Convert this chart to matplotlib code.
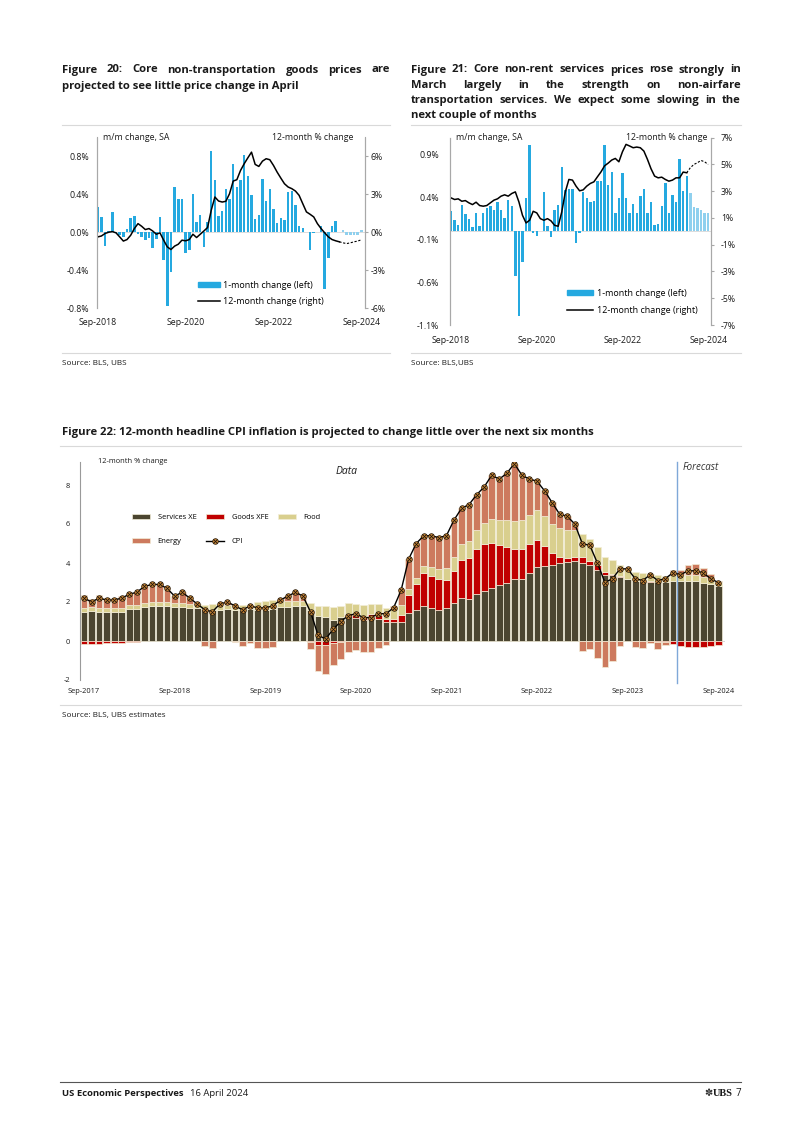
import numpy as np
import matplotlib
matplotlib.use("Agg")
import matplotlib.pyplot as plt
from matplotlib.patches import Patch
from matplotlib.lines import Line2D

plt.rcParams['font.family'] = ['Open Sans', 'DejaVu Sans']
plt.rcParams['axes.unicode_minus'] = False

W, H = 802, 1134

# ---------------- data: Figure 20 (core non-transportation goods) ----------------
f20_ticks = ['Sep-2018', 'Sep-2020', 'Sep-2022', 'Sep-2024']
f20_mm = [0.27, 0.16, -0.15, 0.01, 0.21, -0.01, -0.03, -0.05, 0.03, 0.15,
          0.17, -0.02, -0.05, -0.08, -0.06, -0.17, -0.07, 0.16, -0.29, -0.78,
          -0.42, 0.48, 0.35, 0.35, -0.22, -0.19, 0.40, 0.11, 0.18, -0.16,
          0.11, 0.86, 0.55, 0.17, 0.22, 0.46, 0.35, 0.72, 0.48, 0.55,
          0.81, 0.59, 0.39, 0.14, 0.18, 0.56, 0.33, 0.46, 0.24, 0.10,
          0.15, 0.13, 0.42, 0.43, 0.29, 0.07, 0.04, 0.00, -0.19, -0.01,
          0.00, 0.07, -0.60, -0.27, 0.07, 0.12, 0.00]
f20_mm_fc = [0.02, -0.03, -0.03, -0.03, -0.03, 0.02]
f20_yy = [-0.37, -0.30, -0.10, 0.00, 0.05, -0.05, -0.37, -0.70, -0.58, -0.24,
          0.29, 0.68, 0.47, 0.21, 0.29, 0.10, -0.16, -0.05, -0.63, -1.16,
          -1.37, -1.10, -0.95, -0.63, -0.68, -0.58, -0.16, -0.42, -0.16, 0.10,
          0.37, 1.74, 2.79, 2.47, 2.39, 2.45, 3.05, 4.05, 4.16, 4.89,
          5.42, 5.89, 6.34, 5.37, 5.21, 5.63, 5.82, 5.74, 5.29, 4.76,
          4.29, 3.84, 3.58, 3.45, 3.26, 2.92, 2.26, 1.61, 1.42, 1.21,
          0.68, 0.29, -0.05, -0.37, -0.58, -0.68, -0.76]
f20_yy_fc = [-0.76, -0.84, -0.90, -0.84, -0.76, -0.70, -0.60]

# ---------------- data: Figure 21 (core non-rent services) ----------------
f21_ticks = ['Sep-2018', 'Sep-2020', 'Sep-2022', 'Sep-2024']
f21_mm = [0.235, 0.13, 0.08, 0.31, 0.20, 0.145, 0.05, 0.22, 0.06, 0.21,
          0.27, 0.30, 0.25, 0.35, 0.25, 0.16, 0.37, 0.30, -0.52, -0.99,
          -0.36, 0.39, 1.01, -0.02, -0.05, 0.00, 0.46, 0.06, -0.07, 0.25,
          0.31, 0.76, 0.49, 0.50, 0.50, -0.14, -0.02, 0.46, 0.39, 0.34,
          0.36, 0.59, 0.59, 1.02, 0.55, 0.70, 0.21, 0.39, 0.69, 0.39,
          0.22, 0.32, 0.22, 0.42, 0.50, 0.22, 0.35, 0.08, 0.09, 0.30,
          0.57, 0.21, 0.43, 0.34, 0.85, 0.47, 0.65]
f21_mm_fc = [0.45, 0.29, 0.28, 0.25, 0.215, 0.215]
f21_yy = [2.50, 2.38, 2.43, 2.25, 2.30, 2.13, 2.00, 2.18, 1.93, 1.88,
          1.93, 2.13, 2.33, 2.43, 2.63, 2.73, 2.63, 2.83, 2.95, 2.20,
          1.20, 0.63, 0.83, 1.50, 1.38, 0.95, 0.83, 0.95, 0.78, 0.45,
          0.38, 1.45, 2.95, 3.88, 3.83, 3.38, 3.03, 3.10, 3.38, 3.58,
          3.70, 4.08, 4.45, 4.90, 5.10, 5.33, 5.45, 5.20, 5.95, 6.50,
          6.38, 6.25, 6.30, 6.25, 6.00, 5.38, 4.68, 4.13, 4.00, 4.05,
          3.88, 3.75, 3.83, 4.00, 4.00, 4.43, 4.38]
f21_yy_fc = [4.38, 4.75, 5.00, 5.13, 5.30, 5.20, 5.00]

# ---------------- data: Figure 22 (headline CPI contributions, Sep-2017..Sep-2024) ----------------
f22_ticks = ['Sep-2017', 'Sep-2018', 'Sep-2019', 'Sep-2020',
             'Sep-2021', 'Sep-2022', 'Sep-2023', 'Sep-2024']
services_xe = [1.50, 1.55, 1.50, 1.50,
               1.50, 1.50, 1.65, 1.65, 1.75, 1.78, 1.80, 1.78, 1.75, 1.75, 1.68, 1.70,
               1.62, 1.60, 1.60, 1.62, 1.60, 1.58, 1.62, 1.60, 1.60, 1.65, 1.75, 1.75,
               1.80, 1.80, 1.60, 1.30, 1.25, 1.10, 1.25, 1.30, 1.20, 1.10, 1.20, 1.15,
               0.95, 0.95, 1.00, 1.45, 1.57, 1.80, 1.70, 1.57, 1.70, 1.97, 2.20, 2.15,
               2.40, 2.55, 2.70, 2.85, 3.00, 3.20, 3.20, 3.47, 3.80, 3.85, 3.90, 4.00,
               4.07, 4.10, 4.00, 3.90, 3.64, 3.40, 3.38, 3.30, 3.16, 3.08, 3.08, 3.05,
               3.05, 3.05, 3.10, 3.10, 3.10, 3.10, 3.00, 2.90, 2.80]
goods_xfe = [-0.15, -0.15, -0.15, -0.12,
             -0.12, -0.10, -0.05, -0.03, 0, 0, 0, 0, 0, 0, 0, 0,
             0, 0, 0, 0, 0, 0, 0, 0, 0, 0, 0, 0,
             0.00, -0.02, -0.05, -0.18, -0.20, -0.12, -0.03, 0.08, 0.15, 0.20, 0.20, 0.20,
             0.20, 0.20, 0.35, 0.90, 1.35, 1.70, 1.65, 1.60, 1.42, 1.60, 1.95, 2.10,
             2.30, 2.40, 2.35, 2.05, 1.80, 1.50, 1.50, 1.50, 1.37, 1.00, 0.60, 0.30,
             0.17, 0.22, 0.30, 0.22, 0.25, 0.13, 0.08, 0.02, 0.00, -0.02, 0.00, 0.02,
             -0.05, -0.05, -0.15, -0.25, -0.30, -0.33, -0.30, -0.25, -0.18]
food = [0.20, 0.20, 0.20, 0.20,
        0.20, 0.20, 0.20, 0.20, 0.20, 0.20, 0.20, 0.20, 0.20, 0.20, 0.20, 0.22,
        0.22, 0.28, 0.28, 0.25, 0.25, 0.25, 0.25, 0.40, 0.45, 0.45, 0.30, 0.28,
        0.25, 0.25, 0.36, 0.50, 0.55, 0.62, 0.57, 0.57, 0.54, 0.54, 0.51, 0.54,
        0.53, 0.50, 0.49, 0.34, 0.30, 0.33, 0.47, 0.51, 0.64, 0.73, 0.84, 0.87,
        0.97, 1.10, 1.22, 1.30, 1.40, 1.45, 1.50, 1.50, 1.55, 1.55, 1.50, 1.50,
        1.45, 1.35, 1.20, 1.10, 0.95, 0.80, 0.70, 0.60, 0.52, 0.46, 0.40, 0.37,
        0.36, 0.30, 0.30, 0.30, 0.30, 0.30, 0.28, 0.27, 0.25]
energy = [0.65, 0.40, 0.65, 0.52,
          0.50, 0.60, 0.58, 0.65, 0.85, 0.90, 0.90, 0.72, 0.35, 0.55, 0.30, 0.00,
          -0.28, -0.37, 0.00, 0.10, -0.05, -0.25, -0.12, -0.35, -0.35, -0.30, 0.05, 0.28,
          0.45, 0.25, -0.35, -1.35, -1.50, -1.10, -0.90, -0.55, -0.45, -0.55, -0.55, -0.35,
          -0.20, 0.15, 0.85, 1.50, 1.75, 1.60, 1.55, 1.70, 1.70, 1.90, 1.85, 1.90,
          1.85, 1.85, 2.25, 2.10, 2.40, 2.95, 2.30, 1.85, 1.55, 1.35, 1.15, 0.65,
          0.70, 0.30, -0.50, -0.40, -0.85, -1.35, -1.05, -0.26, 0.00, -0.30, -0.38, -0.10,
          -0.34, -0.15, 0.25, 0.24, 0.50, 0.55, 0.45, 0.25, 0.05]
cpi = [2.2, 2.0, 2.2, 2.1,
       2.1, 2.2, 2.4, 2.5, 2.8, 2.9, 2.9, 2.7, 2.3, 2.5, 2.2, 1.9,
       1.6, 1.5, 1.9, 2.0, 1.8, 1.6, 1.8, 1.7, 1.7, 1.8, 2.1, 2.3,
       2.5, 2.3, 1.5, 0.3, 0.1, 0.6, 1.0, 1.3, 1.4, 1.2, 1.2, 1.4,
       1.4, 1.7, 2.6, 4.2, 5.0, 5.4, 5.4, 5.3, 5.4, 6.2, 6.8, 7.0,
       7.5, 7.9, 8.5, 8.3, 8.6, 9.1, 8.5, 8.3, 8.2, 7.7, 7.1, 6.5,
       6.4, 6.0, 5.0, 4.9, 4.0, 3.0, 3.2, 3.7, 3.7, 3.2, 3.1, 3.4,
       3.1, 3.2, 3.5, 3.4, 3.6, 3.6, 3.5, 3.2, 3.0]

BLUE = '#25a9e0'
BLUE_FC = '#8fd0ee'
GRAY = '#a8a8a8'
TXT = '#1a1a1a'

fig = plt.figure(figsize=(W / 100, H / 100), dpi=100)
renderer = fig.canvas.get_renderer()


def put(x, y, s, **kw):
    kw.setdefault('color', TXT)
    kw.setdefault('va', 'center')
    return fig.text(x / W, 1 - y / H, s, **kw)


def justify(x0, x1, y, s, **kw):
    # spread the words of one title line over the full column width
    words = s.split()
    objs = [put(x0, y, w, **kw) for w in words]
    widths = [o.get_window_extent(renderer).width for o in objs]
    gap = (x1 - x0 - sum(widths)) / (len(words) - 1)
    x = x0
    for o, w in zip(objs, widths):
        o.set_x(x / W)
        x += w + gap


def hline(x0, x1, y, color='#d9d9d9', lw=0.8):
    fig.add_artist(Line2D([x0 / W, x1 / W], [1 - y / H, 1 - y / H],
                          transform=fig.transFigure, color=color, lw=lw))


def axes_px(l, t, r, b):
    return fig.add_axes([l / W, 1 - b / H, (r - l) / W, (b - t) / H])


def style_pair(ax, ax2):
    for a in (ax, ax2):
        for side in ('top', 'bottom'):
            a.spines[side].set_visible(False)
        a.spines['left'].set_color(GRAY)
        a.spines['right'].set_color(GRAY)
        a.spines['left'].set_linewidth(0.8)
        a.spines['right'].set_linewidth(0.8)
    ax.tick_params(axis='x', length=0, labelsize=6.3, pad=6, colors=TXT)
    ax.tick_params(axis='y', length=0, labelsize=6.3, pad=6, colors=TXT)
    ax2.tick_params(axis='y', length=2, color=GRAY, labelsize=6.3, pad=2, colors=TXT)
    ax.patch.set_alpha(0)


TITLE = dict(fontsize=8.1, fontweight='bold')

# ================= Figure 20 =================
justify(62, 390, 70, 'Figure 20: Core non-transportation goods prices are', **TITLE)
put(62, 86, 'projected to see little price change in April', **TITLE)
hline(62, 390, 125)
hline(62, 390, 353)
put(62, 364, 'Source: BLS, UBS', fontsize=5.9)

ax = axes_px(97, 137.5, 365, 308)
ax2 = ax.twinx()
x_act = np.arange(len(f20_mm))
x_fc = np.arange(len(f20_mm), len(f20_mm) + len(f20_mm_fc))
ax.bar(x_act, f20_mm, width=0.68, color=BLUE)
ax.bar(x_fc, f20_mm_fc, width=0.68, color=BLUE_FC)
ax.axhline(0, color='#cfcfcf', lw=0.5, zorder=0)
ax2.plot(np.arange(len(f20_yy)), f20_yy, color='black', lw=1.1)
ax2.plot(np.arange(len(f20_yy) - 1, len(f20_yy) - 1 + len(f20_yy_fc)), f20_yy_fc,
         color='black', lw=0.8, ls=(0, (2, 1.5)))
ax.set_xlim(-0.2, 73)
ax.set_ylim(-0.8, 1.0)
ax2.set_ylim(-6, 7.5)
ax.set_yticks([0.8, 0.4, 0.0, -0.4, -0.8])
ax.set_yticklabels(['0.8%', '0.4%', '0.0%', '-0.4%', '-0.8%'])
ax2.set_yticks([6, 3, 0, -3, -6])
ax2.set_yticklabels(['6%', '3%', '0%', '-3%', '-6%'])
ax.set_xticks([0, 24, 48, 72])
ax.set_xticklabels(f20_ticks)
style_pair(ax, ax2)
ax.tick_params(axis='x', pad=7)
put(103, 137, 'm/m change, SA', fontsize=6.3)
put(353, 137, '12-month % change', fontsize=6.3, ha='right')
ax2.legend(handles=[Patch(color=BLUE, label='1-month change (left)'),
                    Line2D([], [], color='black', lw=1.1, label='12-month change (right)')],
           loc='upper left', bbox_to_anchor=(198 / W, 1 - 280.5 / H),
           bbox_transform=fig.transFigure, frameon=False, fontsize=6.5,
           borderpad=0, borderaxespad=0, handlelength=2.4, handleheight=0.5,
           handletextpad=0.4, labelspacing=0.85)

# ================= Figure 21 =================
justify(411, 741, 70, 'Figure 21: Core non-rent services prices rose strongly in', **TITLE)
justify(411, 741, 85.5, 'March largely in the strength on non-airfare', **TITLE)
justify(411, 741, 100.5, 'transportation services. We expect some slowing in the', **TITLE)
put(411, 115.5, 'next couple of months', **TITLE)
hline(411, 741, 125)
hline(411, 741, 353)
put(411, 364, 'Source: BLS,UBS', fontsize=5.9)

ax = axes_px(450, 137.7, 711, 325)
ax2 = ax.twinx()
x_act = np.arange(len(f21_mm))
x_fc = np.arange(len(f21_mm), len(f21_mm) + len(f21_mm_fc))
ax.bar(x_act, f21_mm, width=0.68, color=BLUE)
ax.bar(x_fc, f21_mm_fc, width=0.68, color=BLUE_FC)
ax.axhline(0, color='#cfcfcf', lw=0.5, zorder=0)
ax2.plot(np.arange(len(f21_yy)), f21_yy, color='black', lw=1.1)
ax2.plot(np.arange(len(f21_yy) - 1, len(f21_yy) - 1 + len(f21_yy_fc)), f21_yy_fc,
         color='black', lw=0.8, ls=(0, (2, 1.5)))
ax.set_xlim(-0.3, 72.8)
ax.set_ylim(-1.1, 1.1)
ax2.set_ylim(-7, 7)
ax.set_yticks([0.9, 0.4, -0.1, -0.6, -1.1])
ax.set_yticklabels(['0.9%', '0.4%', '-0.1%', '-0.6%', '-1.1%'])
ax2.set_yticks([7, 5, 3, 1, -1, -3, -5, -7])
ax2.set_yticklabels(['7%', '5%', '3%', '1%', '-1%', '-3%', '-5%', '-7%'])
ax.set_xticks([0, 24, 48, 72])
ax.set_xticklabels(f21_ticks)
style_pair(ax, ax2)
ax.tick_params(axis='y', pad=8)
ax2.tick_params(axis='y', pad=5)
ax.tick_params(axis='x', pad=8)
put(456, 137, 'm/m change, SA', fontsize=6.3)
put(707, 137, '12-month % change', fontsize=6.3, ha='right')
ax2.legend(handles=[Patch(color=BLUE, label='1-month change (left)'),
                    Line2D([], [], color='black', lw=1.1, label='12-month change (right)')],
           loc='upper left', bbox_to_anchor=(567 / W, 1 - 289 / H),
           bbox_transform=fig.transFigure, frameon=False, fontsize=6.5,
           borderpad=0, borderaxespad=0, handlelength=2.9, handleheight=0.5,
           handletextpad=0.4, labelspacing=0.85)

# ================= Figure 22 =================
put(62, 433, 'Figure 22: 12-month headline CPI inflation is projected to change little over the next six months',
    **TITLE)
hline(60, 741, 446)
hline(60, 741, 705)
put(62, 716, 'Source: BLS, UBS estimates', fontsize=5.9)

ax = axes_px(80, 461.6, 725, 680)
months = np.arange(len(cpi))
series = [(services_xe, '#4b4530', 'Services XE'),
          (goods_xfe, '#c00000', 'Goods XFE'),
          (food, '#d9cf8e', 'Food'),
          (energy, '#cd7a5e', 'Energy')]
pos_base = np.zeros(len(cpi))
neg_base = np.zeros(len(cpi))
bars = {}
for vals, col, name in series:
    v = np.array(vals)
    base = np.where(v >= 0, pos_base, neg_base)
    bars[name] = ax.bar(months, v, bottom=base, width=0.9, color=col,
                        edgecolor='#f3eed8', linewidth=0.5, label=name)
    pos_base = pos_base + np.clip(v, 0, None)
    neg_base = neg_base + np.clip(v, None, 0)
ax.axhline(0, color='#c8c8c8', lw=0.5, zorder=0)
cpi_o, = ax.plot(months, cpi, color='black', lw=1.0, marker='o', ms=4,
                 mfc='#d8923c', mec='#2b1c0c', mew=0.6, zorder=5)
cpi_x, = ax.plot(months, cpi, ls='none', marker='x', ms=2.4, color='#1e1208',
                 mew=0.6, zorder=6)
ax.axvline(78.5, color='#7fa8d8', lw=1.0, ymin=-0.015, clip_on=False)
ax.set_xlim(-0.53, 84.9)
ax.set_ylim(-2, 9.2)
ax.set_yticks([-2, 0, 2, 4, 6, 8])
ax.set_xticks(np.arange(0, 85, 12))
ax.set_xticklabels(f22_ticks)
for side in ('top', 'right', 'bottom'):
    ax.spines[side].set_visible(False)
ax.spines['left'].set_color('#9a9a9a')
ax.spines['left'].set_linewidth(0.8)
ax.tick_params(axis='both', length=0, labelsize=5.4, colors=TXT)
ax.tick_params(axis='y', pad=7)
ax.tick_params(axis='x', pad=6)
ax.patch.set_alpha(0)
put(98, 461, '12-month % change', fontsize=5.4)
put(347, 471, 'Data', fontsize=7.5, style='italic', ha='center')
put(701, 467, 'Forecast', fontsize=7.0, style='italic', ha='center', color='#333333')
ax.legend(handles=[bars['Services XE'], bars['Energy'], bars['Goods XFE'],
                   (cpi_o, cpi_x), bars['Food']],
          labels=['Services XE', 'Energy', 'Goods XFE', 'CPI', 'Food'],
          ncol=3, loc='upper left', bbox_to_anchor=(132 / W, 1 - 514 / H),
          bbox_transform=fig.transFigure, frameon=False, fontsize=5.4,
          borderpad=0, borderaxespad=0, handlelength=2.4, handleheight=0.55,
          handletextpad=1.0, columnspacing=1.3, labelspacing=2.3)

# ================= footer =================
hline(60, 741, 1082, color='#555555', lw=0.8)
t = put(62, 1093, 'US Economic Perspectives', fontsize=6.8, fontweight='bold')
x_end = 62 + t.get_window_extent(renderer).width
put(x_end + 6, 1093, '16 April 2024', fontsize=6.8)
put(733, 1093, 'UBS', fontsize=7.5, fontweight='bold', ha='right',
    family=['Liberation Serif', 'DejaVu Serif'])
put(704, 1093, '\u273d', fontsize=7, family=['DejaVu Sans'], color='#333333')
put(741, 1093, '7', fontsize=7, ha='right')

fig.savefig('out.png', dpi=100)
